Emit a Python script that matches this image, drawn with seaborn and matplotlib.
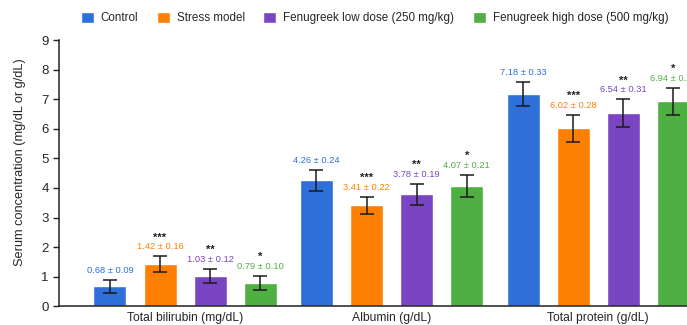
import pandas as pd
import seaborn as sns
import matplotlib.pyplot as plt

# Chart data
measures = ['Total bilirubin (mg/dL)', 'Albumin (g/dL)', 'Total protein (g/dL)']
groups = ['Control', 'Stress model', 'Fenugreek low dose (250 mg/kg)',
          'Fenugreek high dose (500 mg/kg)']
colors = ['#2E6FD9', '#FF8000', '#7A45C2', '#4FAF43']

# mean values per group, in the order of `measures`
control = [0.68, 4.26, 7.18]
stress = [1.42, 3.41, 6.02]
low_dose = [1.03, 3.78, 6.54]
high_dose = [0.79, 4.07, 6.94]

# SD printed above each bar
control_sd = [0.09, 0.24, 0.33]
stress_sd = [0.16, 0.22, 0.28]
low_sd = [0.12, 0.19, 0.31]
high_sd = [0.10, 0.21, 0.29]

# half-length of the drawn error bars (as they appear in the figure)
control_err = [0.22, 0.36, 0.42]
stress_err = [0.27, 0.29, 0.46]
low_err = [0.24, 0.36, 0.46]
high_err = [0.23, 0.37, 0.46]

# significance stars vs control
stress_sig = ['***', '***', '***']
low_sig = ['**', '**', '**']
high_sig = ['*', '*', '*']
control_sig = ['', '', '']

means = [control, stress, low_dose, high_dose]
sds = [control_sd, stress_sd, low_sd, high_sd]
errs = [control_err, stress_err, low_err, high_err]
sigs = [control_sig, stress_sig, low_sig, high_sig]

rows = []
for g, vals in zip(groups, means):
    for m, v in zip(measures, vals):
        rows.append({'measure': m, 'group': g, 'value': v})
df = pd.DataFrame(rows)

sns.set_style('ticks')
plt.rcParams['font.family'] = ['Liberation Sans', 'DejaVu Sans']

fig = plt.figure(figsize=(6.87, 3.25), dpi=100)
ax = fig.add_axes([0.086, 0.058, 0.914, 0.818])

sns.barplot(data=df, x='measure', y='value', hue='group', order=measures,
            hue_order=groups, palette=colors, width=0.97, gap=0.34,
            errorbar=None, saturation=1, legend=True, ax=ax)

# error bars, value labels and stars on each bar
bar_groups = list(ax.containers)
for i, cont in enumerate(bar_groups):
    for j, bar in enumerate(cont):
        x = bar.get_x() + bar.get_width() / 2
        h = bar.get_height()
        e = errs[i][j]
        ax.errorbar(x, h, yerr=e, fmt='none', ecolor='#1a1a1a',
                    elinewidth=1.1, capsize=5, capthick=1.1, zorder=3)
        ax.text(x, h + e + 0.17, f'{means[i][j]:.2f} ± {sds[i][j]:.2f}',
                ha='center', va='bottom', fontsize=6.7, color=colors[i])
        if sigs[i][j]:
            ax.text(x, h + e + 0.47, sigs[i][j], ha='center', va='bottom',
                    fontsize=8, color='#222222', fontweight='bold')

ax.set_ylim(0, 9)
ax.set_xlim(-0.61, 2.43)
ax.set_yticks(range(0, 10))
ax.set_xlabel('')
ax.set_ylabel('Serum concentration (mg/dL or g/dL)', fontsize=9.2)
ax.yaxis.set_label_coords(-0.052, 0.54)
ax.tick_params(axis='y', labelsize=9.5, length=4, width=1, color='#222222')
ax.tick_params(axis='x', labelsize=8.7, length=0, pad=4)
sns.despine(ax=ax)
for s in ['left', 'bottom']:
    ax.spines[s].set_color('#222222')
    ax.spines[s].set_linewidth(1.1)

handles, labels = ax.get_legend_handles_labels()
ax.legend(handles, labels, loc='center', bbox_to_anchor=(0.545, 0.945),
          bbox_transform=fig.transFigure, ncol=4, frameon=False, fontsize=8.4,
          handlelength=1.1, handleheight=1.1, handletextpad=0.6,
          columnspacing=1.6)

fig.savefig('out.png', dpi=100)
